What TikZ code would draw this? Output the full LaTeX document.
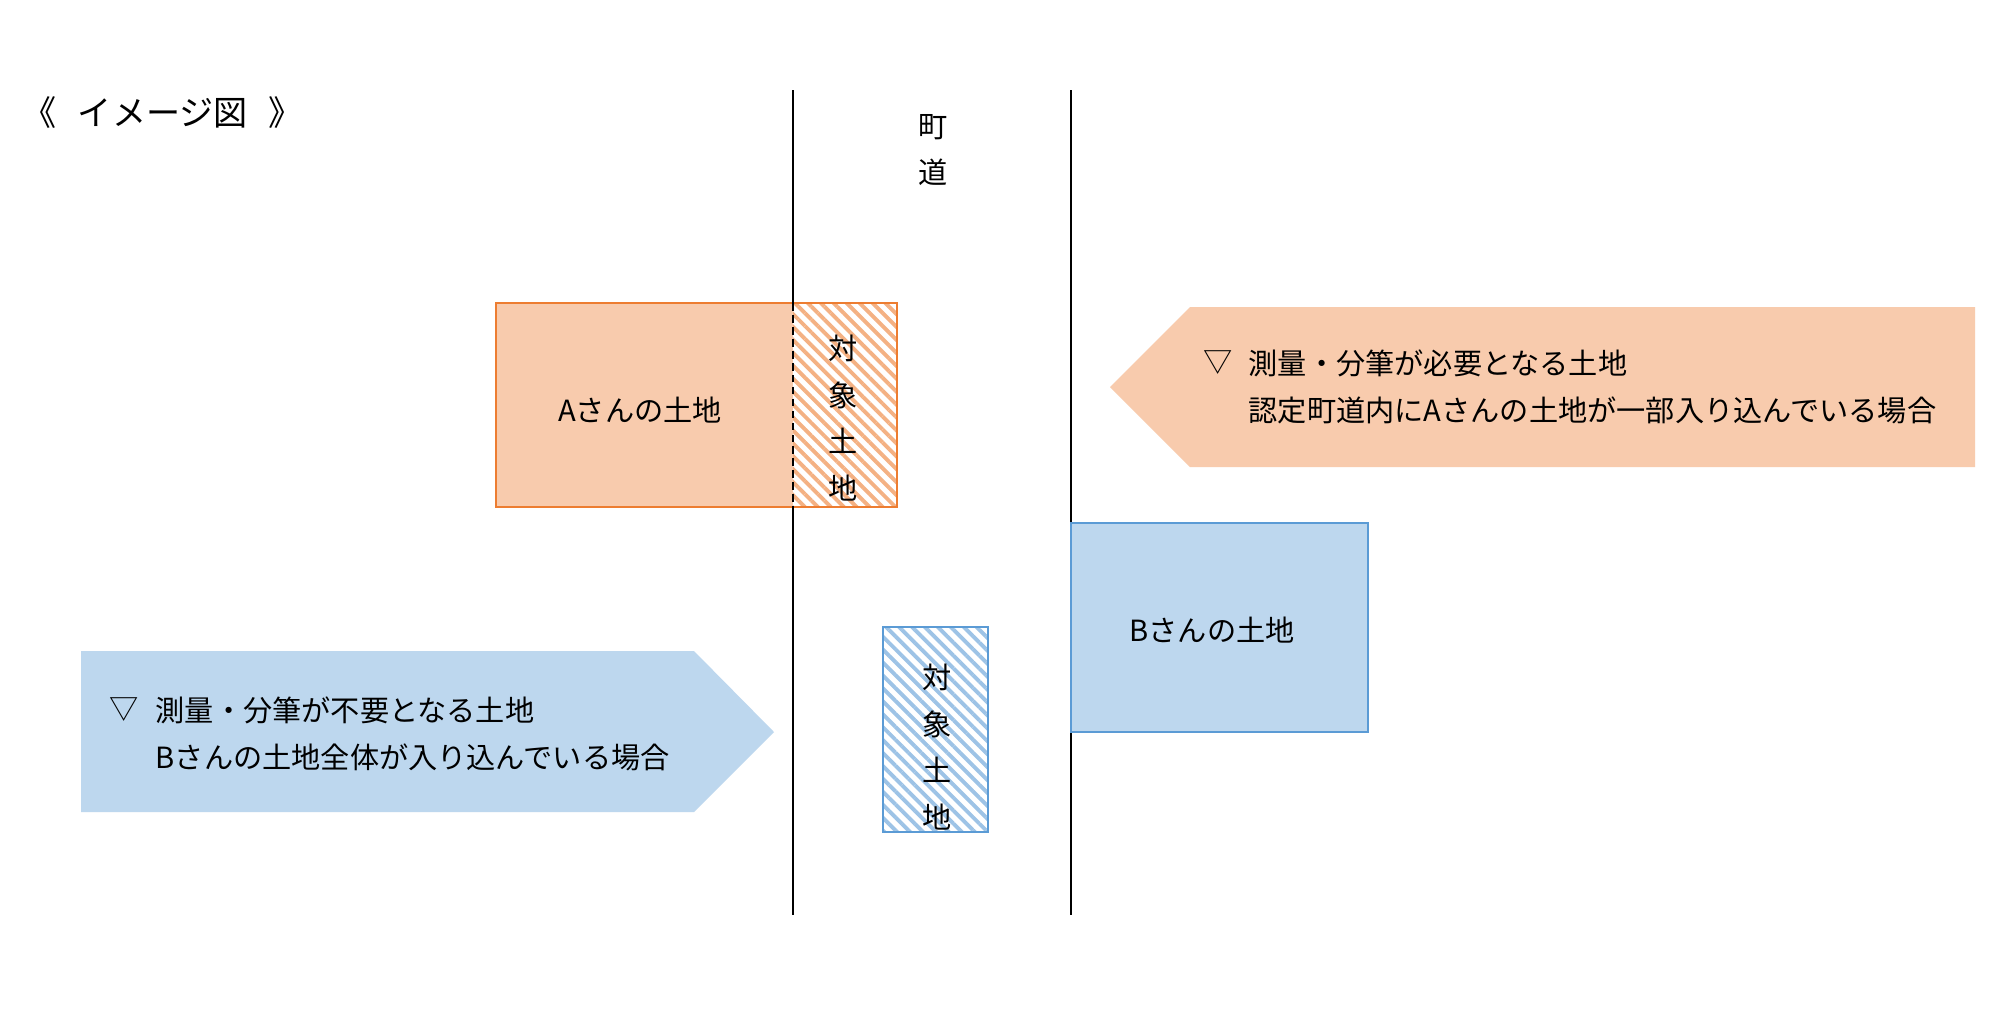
\documentclass[tikz,border=0pt]{standalone}
\usepackage{fontspec}
\setmainfont{Noto Sans CJK JP}
\usetikzlibrary{patterns.meta}
\definecolor{aFill}{HTML}{F8CBAD}
\definecolor{aLine}{HTML}{ED7D31}
\definecolor{aHatch}{HTML}{F4B183}
\definecolor{bFill}{HTML}{BDD7EE}
\definecolor{bLine}{HTML}{5B9BD5}
\definecolor{bHatch}{HTML}{9DC3E6}
\begin{document}
\begin{tikzpicture}[x=0.01cm,y=-0.01cm,
  txt/.style={font=\fontsize{8.3pt}{10pt}\selectfont, inner sep=0pt},
  vtxt/.style={font=\fontsize{8.3pt}{13.3pt}\selectfont, inner sep=0pt, align=center},
  road/.style={black, line width=0.7pt},
  hatch/.style={pattern={Lines[angle=-45,distance=2.6pt,line width=1.1pt]}},
  border/.style={line width=0.8pt}]
\useasboundingbox[fill=white] (0,0) rectangle (2000,1008);

% title
\node[anchor=west, inner sep=0pt, font=\fontsize{9.7pt}{11pt}\selectfont] (title) at (22,113) {《\hspace{0.62em}イメージ図\hspace{0.62em}》};

% road labels
\node[txt] (cho) at (933,127) {町};
\node[txt] (do) at (933,172) {道};

% A land
\fill[aFill] (496,303) rectangle (793,507);
\fill[white] (793,303) rectangle (897,507);
\fill[hatch, pattern color=aHatch] (793,303) rectangle (897,507);
\draw[aLine, border] (496,303) rectangle (897,507);

% road lines
\coordinate (l1t) at (793,90);
\coordinate (l1a) at (793,303);
\coordinate (l1b) at (793,507);
\coordinate (l1e) at (793,915);
\coordinate (l2t) at (1071,90);
\coordinate (l2e) at (1071,915);
\draw[road] (l1t) -- (l1a);
\draw[road, dash pattern=on 2.2pt off 1.2pt] (l1a) -- (l1b);
\draw[road] (l1b) -- (l1e);
\draw[road] (l2t) -- (l2e);

\node[txt] (aland) at (640,410) {Aさんの土地};
\node[vtxt] (taisyoA) at (843,418) {対\\象\\土\\地};

% orange arrow (pointing left)
\fill[aFill] (1110,387) -- (1190,307) -- (1975,307) -- (1975,467) -- (1190,467) -- cycle;
\node[txt, anchor=west] (triA) at (1203,363) {▽};
\node[txt, anchor=west] (a1) at (1248,363) {測量・分筆が必要となる土地};
\node[txt, anchor=west] (a2) at (1248,410) {認定町道内にAさんの土地が一部入り込んでいる場合};

% B land
\fill[bFill] (1071,523) rectangle (1368,732);
\draw[bLine, border] (1071,523) rectangle (1368,732);
\node[txt] (bland) at (1212,630) {Bさんの土地};

% B target
\fill[white] (883,627) rectangle (988,832);
\fill[hatch, pattern color=bHatch] (883,627) rectangle (988,832);
\draw[bLine, border] (883,627) rectangle (988,832);
\node[vtxt] (taisyoB) at (937,747) {対\\象\\土\\地};

% blue arrow (pointing right)
\fill[bFill] (81,651) -- (694,651) -- (774,732) -- (694,812) -- (81,812) -- cycle;
\node[txt, anchor=west] (triB) at (109,710) {▽};
\node[txt, anchor=west] (b1) at (155,710) {測量・分筆が不要となる土地};
\node[txt, anchor=west] (b2) at (155,757) {Bさんの土地全体が入り込んでいる場合};
\end{tikzpicture}
\end{document}
